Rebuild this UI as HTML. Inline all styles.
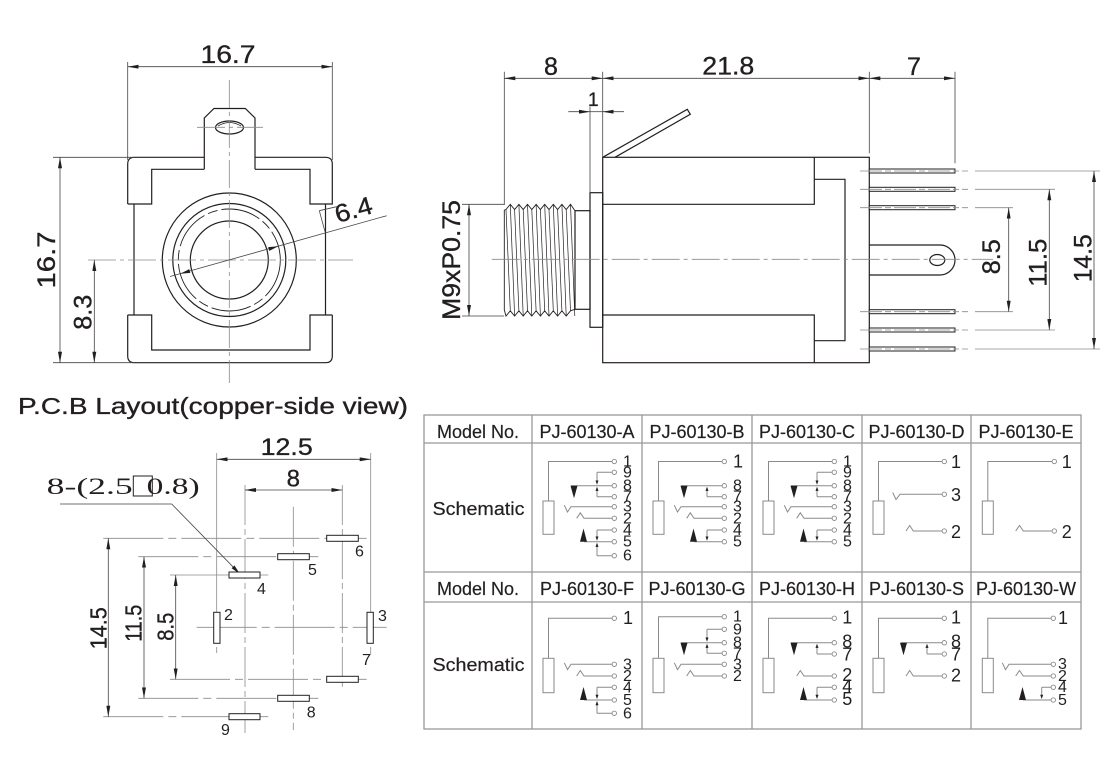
<!DOCTYPE html>
<html><head><meta charset="utf-8"><style>
html,body{margin:0;padding:0;background:#fff;}
svg{display:block;}
text{font-family:"Liberation Sans",Arial,sans-serif;fill:#231f20;}
.sf{font-family:"Liberation Serif","DejaVu Serif",serif;}
.dt{stroke:#231f20;stroke-width:0.35;}
</style></head><body>
<svg width="1120" height="780" viewBox="0 0 1120 780" xmlns="http://www.w3.org/2000/svg">
<defs>
<marker id="ar" viewBox="0 0 11 4" refX="11" refY="2" markerWidth="11" markerHeight="4" markerUnits="userSpaceOnUse" orient="auto-start-reverse"><path d="M0,0 L11,2 L0,4z" fill="#231f20"/></marker>
</defs>

<!-- ============ FRONT VIEW ============ -->
<g fill="none" stroke="#231f20" stroke-width="1.2">
<path d="M127.7,204 V164 Q127.7,157.3 134.5,157.3 H204.3 M255,157.3 H325.5 Q332.3,157.3 332.3,164 V204 H310 V169.3 H255 M204.3,169.3 H151.7 V204 H127.7"/>
<path d="M204.3,169.3 V118 L214,108.5 H245.3 L255,118 V169.3"/>
<path d="M134,204 V315 M325.5,204 V315"/>
<path d="M127.7,315 H151.7 V350 H310 V315 H332.3 M127.7,315 V356 Q127.7,362.7 134.5,362.7 H325.5 Q332.3,362.7 332.3,356 V315"/>
<ellipse cx="229.5" cy="127.5" rx="14" ry="6.5"/>
<path d="M218,126 Q229.5,119 241,126" stroke-width="0.8"/>
<circle cx="229.3" cy="260" r="67"/>
<circle cx="229.3" cy="260" r="56.5"/>
<circle cx="229.3" cy="260" r="51" stroke-dasharray="40 4 10 4" stroke-width="0.9"/>
<circle cx="229.3" cy="260" r="39"/>
</g>
<g stroke="#8a8a8a" stroke-width="0.8" fill="none" stroke-dasharray="28 4 4 4">
<path d="M229.3,80 V383"/>
<path d="M88,260 H353"/>
<path d="M197,127.3 H263"/>
</g>
<g stroke="#444" stroke-width="0.8" fill="none">
<path d="M127.7,62 V160 M332.3,62 V160"/>
<path d="M127.7,66.7 H332.3" marker-start="url(#ar)" marker-end="url(#ar)"/>
<path d="M53,157.3 H134 M53,362.7 H134"/>
<path d="M60,157.3 V362.7" marker-start="url(#ar)" marker-end="url(#ar)"/>
<path d="M94.3,260 V362.7" marker-start="url(#ar)" marker-end="url(#ar)"/>
<path d="M170,276.5 L386.7,215.7"/>
<path d="M319.3,210.7 L325,231.7 M319.3,210.7 L336.7,206.7"/>
</g>
<g fill="#231f20">
<polygon points="278.4,246.3 269.3,250.9 268.2,247.1"/>
<polygon points="180.2,273.7 189.3,269.1 190.3,272.9"/>
</g>
<text class="dt" x="228" y="63" font-size="25" text-anchor="middle" textLength="55" lengthAdjust="spacingAndGlyphs">16.7</text>
<text class="dt" transform="translate(55,260) rotate(-90)" font-size="25" text-anchor="middle" textLength="57" lengthAdjust="spacingAndGlyphs">16.7</text>
<text class="dt" transform="translate(91.7,312.3) rotate(-90)" font-size="25" text-anchor="middle" textLength="35" lengthAdjust="spacingAndGlyphs">8.3</text>
<text class="dt" transform="translate(337.5,223) rotate(-15.6)" font-size="25" textLength="38" lengthAdjust="spacingAndGlyphs">6.4</text>

<!-- ============ SIDE VIEW ============ -->
<g fill="none" stroke="#231f20" stroke-width="1.2">
<rect x="602.7" y="157.3" width="266.6" height="205.4"/>
<path d="M602.7,204.3 H814.3 V157.3 M602.7,315 H814.3 V362.7 M814.3,179.3 H845 V340.7 H814.3"/>
<path d="M602.7,157.3 L687.3,109.3 L690.3,114.3 L615,157.3"/>
<rect x="590" y="192.7" width="12.7" height="134.6"/>
<rect x="575" y="210.7" width="15" height="98.6"/>
<path d="M869.3,245 H940 A15,15 0 0 1 940,275 H869.3"/>
<ellipse cx="937.3" cy="260" rx="7.5" ry="5.5"/>
</g>
<g fill="none" stroke="#231f20" stroke-width="0.9">
<path d="M504.3,210 L506,209.5 L510.3,204.3 L514.6,209.5 L518.9,204.3 L523.2,209.5 L527.5,204.3 L531.8,209.5 L536.1,204.3 L540.4,209.5 L544.7,204.3 L549,209.5 L553.3,204.3 L557.6,209.5 L561.9,204.3 L566.2,209.5 L570.5,204.3 L575,210.7"/>
<path d="M504.3,310 L506,316 L510.3,310.8 L514.6,316 L518.9,310.8 L523.2,316 L527.5,310.8 L531.8,316 L536.1,310.8 L540.4,316 L544.7,310.8 L549,316 L553.3,310.8 L557.6,316 L561.9,310.8 L566.2,316 L570.5,310.8 L575,309.3"/>
<path d="M504.3,210 V310"/>
<path stroke-width="0.7" d="M510.3,204.3 L514.6,316 M518.9,204.3 L523.2,316 M527.5,204.3 L531.8,316 M536.1,204.3 L540.4,316 M544.7,204.3 L549,316 M553.3,204.3 L557.6,316 M561.9,204.3 L566.2,316 M570.5,204.3 L574.8,316 M506,209.5 L510.3,310.8 M514.6,209.5 L518.9,310.8 M523.2,209.5 L527.5,310.8 M531.8,209.5 L536.1,310.8 M540.4,209.5 L544.7,310.8 M549,209.5 L553.3,310.8 M557.6,209.5 L561.9,310.8 M566.2,209.5 L570.5,310.8"/>
</g>
<!-- pins -->
<g fill="#fff" stroke="#231f20" stroke-width="1">
<rect x="869.3" y="169" width="85.7" height="4"/>
<rect x="869.3" y="187.3" width="85.7" height="4"/>
<rect x="869.3" y="205.7" width="85.7" height="4"/>
<rect x="869.3" y="309.7" width="85.7" height="4"/>
<rect x="869.3" y="328" width="85.7" height="4"/>
<rect x="869.3" y="347" width="85.7" height="4"/>
</g>
<g stroke="#8a8a8a" stroke-width="0.8" fill="none">
<path stroke-dasharray="22 3 6 3" d="M860,171 H968 M860,189.3 H968 M860,207.7 H968 M860,311.7 H968 M860,330 H968 M860,349 H968"/>
<path d="M975,171 H1100 M975,189.3 H1055 M975,207.7 H1013 M975,311.7 H1013 M975,330 H1055 M975,349 H1100"/>
<path stroke-dasharray="28 4 4 4" d="M491.7,259.3 H993"/>
</g>
<g stroke="#444" stroke-width="0.8" fill="none">
<path d="M504.3,71.7 V205 M602.7,71.7 V157.3 M869.3,71.7 V153.3 M955,71.7 V163.3 M590,106.7 V192.7"/>
<path d="M504.3,78.3 H602.7" marker-start="url(#ar)" marker-end="url(#ar)"/>
<path d="M602.7,78.3 H869.3" marker-start="url(#ar)" marker-end="url(#ar)"/>
<path d="M869.3,78.3 H955" marker-start="url(#ar)" marker-end="url(#ar)"/>
<path d="M568.3,111.7 H590" marker-end="url(#ar)"/>
<path d="M624,111.7 H602.7" marker-end="url(#ar)"/>
<path d="M590,111.7 H602.7"/>
<path d="M462,204.3 H504 M462,316 H504"/>
<path d="M469,204.3 V316" marker-start="url(#ar)" marker-end="url(#ar)"/>
<path d="M1008.7,207.7 V311.7" marker-start="url(#ar)" marker-end="url(#ar)"/>
<path d="M1049.3,189.3 V330" marker-start="url(#ar)" marker-end="url(#ar)"/>
<path d="M1094,171 V349" marker-start="url(#ar)" marker-end="url(#ar)"/>
</g>
<text class="dt" x="551" y="75" font-size="25" text-anchor="middle">8</text>
<text class="dt" x="728.3" y="74.3" font-size="25" text-anchor="middle" textLength="52" lengthAdjust="spacingAndGlyphs">21.8</text>
<text class="dt" x="914" y="75" font-size="25" text-anchor="middle">7</text>
<text class="dt" x="593.3" y="106" font-size="19" text-anchor="middle">1</text>
<text class="dt" transform="translate(460,260) rotate(-90)" font-size="25" text-anchor="middle" textLength="120" lengthAdjust="spacingAndGlyphs">M9xP0.75</text>
<text class="dt" transform="translate(1000,256.7) rotate(-90)" font-size="25" text-anchor="middle" textLength="35" lengthAdjust="spacingAndGlyphs">8.5</text>
<text class="dt" transform="translate(1046.7,262.7) rotate(-90)" font-size="25" text-anchor="middle" textLength="48" lengthAdjust="spacingAndGlyphs">11.5</text>
<text class="dt" transform="translate(1091.7,258.3) rotate(-90)" font-size="25" text-anchor="middle" textLength="48" lengthAdjust="spacingAndGlyphs">14.5</text>

<!-- ============ PCB LAYOUT ============ -->
<text class="dt" x="18" y="414" font-size="23" textLength="390" lengthAdjust="spacingAndGlyphs">P.C.B Layout(copper-side view)</text>
<g stroke="#8a8a8a" stroke-width="0.8" fill="none">
<path d="M216.7,453 V605"/>
<path d="M216.7,605 V653" stroke-dasharray="10 4"/>
<path d="M370.7,453 V605"/>
<path d="M370.7,605 V655" stroke-dasharray="10 4"/>
<path stroke-dasharray="40 4 6 4" d="M245,485 V733 M293.3,506.7 V730 M342.3,485 V686.7"/>
<path stroke-dasharray="60 5 8 5" d="M103.3,538.3 H366.7 M138.3,556.7 H318.3 M170,575 H268.3 M196.7,627.3 H386.7 M170,679.3 H366.7 M138.3,698.3 H318.3 M103.3,716.7 H268.3"/>
</g>
<g stroke="#444" stroke-width="0.8" fill="none">
<path d="M216.7,459.3 H370.7" marker-start="url(#ar)" marker-end="url(#ar)"/>
<path d="M245,490 H342.3" marker-start="url(#ar)" marker-end="url(#ar)"/>
<path d="M108.3,538.3 V716.7" marker-start="url(#ar)" marker-end="url(#ar)"/>
<path d="M144,556.7 V698.3" marker-start="url(#ar)" marker-end="url(#ar)"/>
<path d="M175.7,575 V679.3" marker-start="url(#ar)" marker-end="url(#ar)"/>
<path d="M60,504 H171.7 L233,566.8"/>
</g>
<polygon points="240,574 231.6,568.2 234.4,565.4" fill="#231f20"/>
<g fill="#fff" stroke="#231f20" stroke-width="1">
<rect x="326.7" y="535.3" width="31.6" height="6"/>
<rect x="277.7" y="553.7" width="31.6" height="6"/>
<rect x="229" y="572" width="31" height="6"/>
<rect x="213.7" y="612.3" width="6.3" height="31"/>
<rect x="367" y="612.3" width="6.3" height="31"/>
<rect x="326.7" y="676.3" width="31.6" height="6"/>
<rect x="277.7" y="695.3" width="31.6" height="6"/>
<rect x="229" y="713.7" width="31" height="6"/>
</g>
<g font-size="16">
<text x="355" y="556.7">6</text>
<text x="308" y="575">5</text>
<text x="257" y="594">4</text>
<text x="224" y="620">2</text>
<text x="378" y="621">3</text>
<text x="362" y="665">7</text>
<text x="306.7" y="717.3">8</text>
<text x="221" y="735">9</text>
</g>
<text class="dt" x="286.7" y="455" font-size="24" text-anchor="middle" textLength="52" lengthAdjust="spacingAndGlyphs">12.5</text>
<text class="dt" x="293.3" y="486.7" font-size="24" text-anchor="middle">8</text>
<text class="dt" transform="translate(106.7,628.3) rotate(-90)" font-size="23" text-anchor="middle" textLength="42" lengthAdjust="spacingAndGlyphs">14.5</text>
<text class="dt" transform="translate(141.7,623.3) rotate(-90)" font-size="23" text-anchor="middle" textLength="37" lengthAdjust="spacingAndGlyphs">11.5</text>
<text class="dt" transform="translate(173.3,626.7) rotate(-90)" font-size="23" text-anchor="middle" textLength="28" lengthAdjust="spacingAndGlyphs">8.5</text>
<text class="sf" x="46.7" y="494" font-size="23" textLength="86" lengthAdjust="spacingAndGlyphs">8-(2.5</text>
<rect x="133.3" y="476" width="19" height="20" fill="none" stroke="#231f20" stroke-width="1"/>
<text class="sf" x="146.7" y="494" font-size="23" textLength="53" lengthAdjust="spacingAndGlyphs">0.8)</text>

<!-- ============ TABLE ============ -->
<g stroke="#999" stroke-width="1.3" fill="none">
<rect x="424" y="415" width="657" height="314"/>
<path d="M424,443 H1081 M424,572 H1081 M424,602 H1081 M532,415 V729 M642,415 V729 M752,415 V729 M862,415 V729 M971,415 V729"/>
</g>
<g font-size="18" text-anchor="middle" class="dt" style="stroke-width:0.2">
<text x="478" y="438">Model No.</text>
<text x="587" y="438">PJ-60130-A</text>
<text x="697" y="438">PJ-60130-B</text>
<text x="807" y="438">PJ-60130-C</text>
<text x="916.5" y="438">PJ-60130-D</text>
<text x="1026" y="438">PJ-60130-E</text>
<text x="478" y="595">Model No.</text>
<text x="587" y="595">PJ-60130-F</text>
<text x="697" y="595">PJ-60130-G</text>
<text x="807" y="595">PJ-60130-H</text>
<text x="916.5" y="595">PJ-60130-S</text>
<text x="1026" y="595">PJ-60130-W</text>
<text x="478.5" y="515" textLength="92" lengthAdjust="spacingAndGlyphs">Schematic</text>
<text x="478.5" y="671" textLength="92" lengthAdjust="spacingAndGlyphs">Schematic</text>
</g>

<!-- schematic lines -->
<g stroke="#8a8a8a" stroke-width="1" fill="none">
<rect x="543" y="501" width="11" height="33.3"/>
<path d="M548.5,501 V461.5 H612"/>
<path d="M571,485.7 H612 M597,472.3 H612 M597,472.3 V481 M597,496.7 H612 M597,496.7 V490"/>
<path d="M564.3,505.2 L567.5,512 L571,506.7 H612 M576.7,518.3 L580.3,512.8 L584,518.3 H612"/>
<path d="M584,541.7 H612 M597,530 H612 M597,530 V537 M597,555.7 H612 M597,555.7 V546"/>
<rect x="653" y="501" width="11" height="33.3"/>
<path d="M658.5,501 V461.5 H722"/>
<path d="M681,485.7 H722 M707,496.7 H722 M707,496.7 V490"/>
<path d="M674.3,505.2 L677.5,512 L681,506.7 H722 M686.7,518.3 L690.3,512.8 L694,518.3 H722"/>
<path d="M694,541.7 H722 M707,530 H722 M707,530 V537"/>
<rect x="763" y="501" width="11" height="33.3"/>
<path d="M768.5,501 V461.5 H832"/>
<path d="M791,485.7 H832 M817,472.3 H832 M817,472.3 V481 M817,496.7 H832 M817,496.7 V490"/>
<path d="M784.3,505.2 L787.5,512 L791,506.7 H832 M796.7,518.3 L800.3,512.8 L804,518.3 H832"/>
<path d="M804,541.7 H832 M817,530 H832 M817,530 V537"/>
<rect x="873" y="501" width="11" height="33.3"/>
<path d="M878.5,501 V461.5 H942"/>
<path d="M892.7,492.5 L896,499.5 L900,494.3 H942 M906,531 L909.7,525.5 L913.3,531 H942"/>
<rect x="982.3" y="501" width="11" height="33.3"/>
<path d="M987.8,501 V461.5 H1052"/>
<path d="M1015.7,531 L1019.5,525.5 L1023.3,531 H1052"/>
<rect x="543" y="658.3" width="11" height="34.4"/>
<path d="M548.5,658.3 V618.3 H612"/>
<path d="M564.3,662.8 L567.5,669.6 L571,664.3 H612 M576.7,676 L580.3,670.5 L584,676 H612"/>
<path d="M584,700 H612 M597,687.3 H612 M597,687.3 V695 M597,713.3 H612 M597,713.3 V704"/>
<rect x="653" y="658.3" width="11" height="34.4"/>
<path d="M658.5,658.3 V616.7 H722"/>
<path d="M681,642.7 H722 M707,629.3 H722 M707,629.3 V638 M707,653.3 H722 M707,653.3 V647"/>
<path d="M674.3,662.8 L677.5,669.6 L681,664.3 H722 M686.7,676 L690.3,670.5 L694,676 H722"/>
<rect x="763" y="658.3" width="11" height="34.4"/>
<path d="M768.5,658.3 V618.3 H832"/>
<path d="M791,642.7 H832 M817,654 H832 M817,654 V647"/>
<path d="M796.7,676 L800.3,670.5 L804,676 H832"/>
<path d="M804,700 H832 M817,687.3 H832 M817,687.3 V695"/>
<rect x="873" y="658.3" width="11" height="34.4"/>
<path d="M878.5,658.3 V618.3 H942"/>
<path d="M901,642.7 H942 M927,654 H942 M927,654 V647"/>
<path d="M906,676 L909.7,670.5 L913.3,676 H942"/>
<rect x="982.3" y="658.3" width="11" height="34.4"/>
<path d="M987.8,658.3 V618.3 H1051"/>
<path d="M1002.3,662.8 L1005.5,669.6 L1009,664.3 H1051 M1015.7,676 L1019.5,670.5 L1023.3,676 H1051"/>
<path d="M1023,700 H1051 M1041.7,687.3 H1051 M1041.7,687.3 V695"/>
</g>
<g stroke="#8a8a8a" stroke-width="0.9" fill="#fff">
<circle cx="614.3" cy="461.5" r="2.2"/><circle cx="614.3" cy="472.3" r="2.2"/><circle cx="614.3" cy="485.7" r="2.2"/><circle cx="614.3" cy="496.7" r="2.2"/><circle cx="614.3" cy="506.7" r="2.2"/><circle cx="614.3" cy="518.3" r="2.2"/><circle cx="614.3" cy="530" r="2.2"/><circle cx="614.3" cy="541.7" r="2.2"/><circle cx="614.3" cy="555.7" r="2.2"/>
<circle cx="724.3" cy="461.5" r="2.2"/><circle cx="724.3" cy="485.7" r="2.2"/><circle cx="724.3" cy="496.7" r="2.2"/><circle cx="724.3" cy="506.7" r="2.2"/><circle cx="724.3" cy="518.3" r="2.2"/><circle cx="724.3" cy="530" r="2.2"/><circle cx="724.3" cy="541.7" r="2.2"/>
<circle cx="834.3" cy="461.5" r="2.2"/><circle cx="834.3" cy="472.3" r="2.2"/><circle cx="834.3" cy="485.7" r="2.2"/><circle cx="834.3" cy="496.7" r="2.2"/><circle cx="834.3" cy="506.7" r="2.2"/><circle cx="834.3" cy="518.3" r="2.2"/><circle cx="834.3" cy="530" r="2.2"/><circle cx="834.3" cy="541.7" r="2.2"/>
<circle cx="944.3" cy="461.5" r="2.2"/><circle cx="944.3" cy="494.3" r="2.2"/><circle cx="944.3" cy="531" r="2.2"/>
<circle cx="1054.3" cy="461.5" r="2.2"/><circle cx="1054.3" cy="531" r="2.2"/>
<circle cx="614.3" cy="618.3" r="2.2"/><circle cx="614.3" cy="664.3" r="2.2"/><circle cx="614.3" cy="676" r="2.2"/><circle cx="614.3" cy="687.3" r="2.2"/><circle cx="614.3" cy="700" r="2.2"/><circle cx="614.3" cy="713.3" r="2.2"/>
<circle cx="724.3" cy="616.7" r="2.2"/><circle cx="724.3" cy="629.3" r="2.2"/><circle cx="724.3" cy="642.7" r="2.2"/><circle cx="724.3" cy="653.3" r="2.2"/><circle cx="724.3" cy="664.3" r="2.2"/><circle cx="724.3" cy="676" r="2.2"/>
<circle cx="834.3" cy="618.3" r="2.2"/><circle cx="834.3" cy="642.7" r="2.2"/><circle cx="834.3" cy="654" r="2.2"/><circle cx="834.3" cy="676" r="2.2"/><circle cx="834.3" cy="687.3" r="2.2"/><circle cx="834.3" cy="700" r="2.2"/>
<circle cx="944.3" cy="618.3" r="2.2"/><circle cx="944.3" cy="642.7" r="2.2"/><circle cx="944.3" cy="654" r="2.2"/><circle cx="944.3" cy="676" r="2.2"/>
<circle cx="1053.3" cy="618.3" r="2.2"/><circle cx="1053.3" cy="664.3" r="2.2"/><circle cx="1053.3" cy="676" r="2.2"/><circle cx="1053.3" cy="687.3" r="2.2"/><circle cx="1053.3" cy="700" r="2.2"/>
</g>
<g fill="#231f20">
<polygon points="570.5,485.7 577.5,485.7 574,498.3"/>
<polygon points="580,541.7 587,541.7 583.5,528.5"/>
<polygon points="597,484.7 595.5,480.5 598.5,480.5"/><polygon points="597,486.7 595.5,490.9 598.5,490.9"/>
<polygon points="597,540.7 595.5,536.5 598.5,536.5"/><polygon points="597,542.7 595.5,546.9 598.5,546.9"/>
<polygon points="680.5,485.7 687.5,485.7 684,498.3"/>
<polygon points="690,541.7 697,541.7 693.5,528.5"/>
<polygon points="707,486.7 705.5,490.9 708.5,490.9"/>
<polygon points="707,540.7 705.5,536.5 708.5,536.5"/>
<polygon points="790.5,485.7 797.5,485.7 794,498.3"/>
<polygon points="800,541.7 807,541.7 803.5,528.5"/>
<polygon points="817,484.7 815.5,480.5 818.5,480.5"/><polygon points="817,486.7 815.5,490.9 818.5,490.9"/>
<polygon points="817,540.7 815.5,536.5 818.5,536.5"/>
<polygon points="580,700 587,700 583.5,687"/>
<polygon points="597,699 595.5,694.8 598.5,694.8"/><polygon points="597,701 595.5,705.2 598.5,705.2"/>
<polygon points="680.5,642.7 687.5,642.7 684,655.3"/>
<polygon points="707,641.7 705.5,637.5 708.5,637.5"/><polygon points="707,643.7 705.5,647.9 708.5,647.9"/>
<polygon points="790.5,642.7 797.5,642.7 794,655.3"/>
<polygon points="817,643.7 815.5,647.9 818.5,647.9"/>
<polygon points="800,700 807,700 803.5,687"/>
<polygon points="817,699 815.5,694.8 818.5,694.8"/>
<polygon points="900,642.7 907,642.7 903.5,655.3"/>
<polygon points="927,643.7 925.5,647.9 928.5,647.9"/>
<polygon points="1019,700 1026,700 1022.5,687"/>
<polygon points="1041.7,699 1040.2,694.8 1043.2,694.8"/>
</g>
<g font-size="16">
<text x="623" y="466.5">1</text><text x="623" y="477.3">9</text><text x="623" y="490.7">8</text><text x="623" y="501.7">7</text><text x="623" y="511.7">3</text><text x="623" y="523.3">2</text><text x="623" y="535">4</text><text x="623" y="546.7">5</text><text x="623" y="560.7">6</text>
<text x="733" y="490.7">8</text><text x="733" y="501.7">7</text><text x="733" y="511.7">3</text><text x="733" y="523.3">2</text><text x="733" y="535">4</text><text x="733" y="546.7">5</text>
<text x="843" y="466.5">1</text><text x="843" y="477.3">9</text><text x="843" y="490.7">8</text><text x="843" y="501.7">7</text><text x="843" y="511.7">3</text><text x="843" y="523.3">2</text><text x="843" y="535">4</text><text x="843" y="546.7">5</text>
<text x="623" y="669.5">3</text><text x="623" y="681">2</text><text x="623" y="692.5">4</text><text x="623" y="705">5</text><text x="623" y="718.5">6</text>
<text x="733" y="621.7">1</text><text x="733" y="634.3">9</text><text x="733" y="647.7">8</text><text x="733" y="658.3">7</text><text x="733" y="669.3">3</text><text x="733" y="681">2</text>
<text x="1058" y="669">3</text><text x="1058" y="681">2</text><text x="1058" y="692">4</text><text x="1058" y="705">5</text>
</g>
<g font-size="18">
<text x="733" y="467.5">1</text>
<text x="951" y="468">1</text><text x="951" y="501">3</text><text x="951" y="538">2</text>
<text x="1061.7" y="468">1</text><text x="1061.7" y="538">2</text>
<text x="623" y="624">1</text>
<text x="842.3" y="623.3">1</text><text x="842.3" y="647.3">8</text><text x="842.3" y="660.7">7</text><text x="842.3" y="681">2</text><text x="842.3" y="692.7">4</text><text x="842.3" y="705">5</text>
<text x="951" y="623.3">1</text><text x="951" y="647.3">8</text><text x="951" y="660.7">7</text><text x="951" y="681.7">2</text>
<text x="1058" y="624">1</text>
</g>
</svg>
</body></html>
